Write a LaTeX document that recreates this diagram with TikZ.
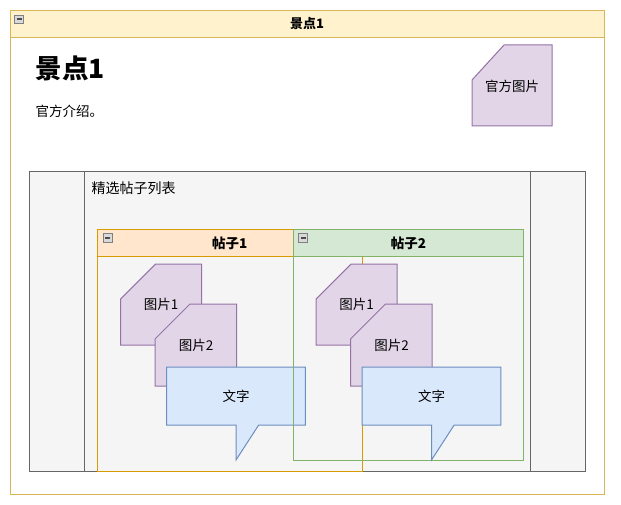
\documentclass[tikz,border=0pt]{standalone}
\usepackage{fontspec}
\setmainfont{Noto Sans CJK SC}
\definecolor{headfill}{HTML}{FFF2CC}
\definecolor{headline}{HTML}{D6B656}
\definecolor{picfill}{HTML}{E1D5E7}
\definecolor{picline}{HTML}{9673A6}
\definecolor{txtfill}{HTML}{DAE8FC}
\definecolor{txtline}{HTML}{6C8EBF}
\definecolor{listfill}{HTML}{F5F5F5}
\definecolor{listline}{HTML}{666666}
\definecolor{post1fill}{HTML}{FFE6CC}
\definecolor{post1line}{HTML}{D79B00}
\definecolor{post2fill}{HTML}{D5E8D4}
\definecolor{post2line}{HTML}{82B366}
\begin{document}
\begin{tikzpicture}[x=1pt,y=-1pt,line width=1pt,
    pic/.style={draw=picline,fill=picfill},
    bubble/.style={draw=txtline,fill=txtfill},
    minus/.style={draw=black!50,fill=black!15,line width=0.8pt},
    label/.style={font=\fontsize{13.5}{15}\selectfont,inner sep=0pt}]
    \useasboundingbox (0,0) rectangle (621,505);
    \draw[draw=headline, fill=white] (10,11) rectangle (604,494);
    \draw[draw=headline, fill=headfill] (10,11) rectangle (604,38);
    \draw[minus] (14.5,15) rectangle (23.5,23.5);
    \draw[black!70, line width=1.5pt] (16.5,19.2) -- (21.5,19.2);
    \node[label, font=\bfseries\fontsize{13}{15}\selectfont] (spottitle) at (307,24) {景点1};
    \node[label, anchor=west, font=\bfseries\fontsize{26.5}{30}\selectfont] (spotname) at (35,68) {景点1};
    \node[label, anchor=west] (spotintro) at (35,111) {官方介绍。};
    \draw[pic] (472,80) -- (504,45) -- (552,45) -- (552,126) -- (472,126) -- cycle;
    \node[label] (officialpic) at (512,86) {官方图片};
    \draw[draw=listline, fill=listfill] (29,172) rectangle (585,471);
    \draw[listline] (84,172) -- (84,471);
    \draw[listline] (530,172) -- (530,471);
    \node[label, anchor=west, font=\fontsize{14}{16}\selectfont] (postlist) at (91,188) {精选帖子列表};
    \foreach \n/\dx/\xr/\yb in {1/0/362/471, 2/195.5/523.7/460} {
        \draw[draw=post\n line] (97.7+\dx,256) rectangle (\xr,\yb);
        \draw[draw=post\n line, fill=post\n fill] (97.7+\dx,230) rectangle (\xr,256);
        \draw[minus] (103+\dx,233.5) rectangle (112+\dx,242);
        \draw[black!70, line width=1.5pt] (105+\dx,237.8) -- (110+\dx,237.8);
        \node[label, font=\bfseries\fontsize{13.5}{15}\selectfont] (post\n) at ({(97.7+\dx+\xr)/2},243) {帖子\n};
        \draw[pic] (120.7+\dx,299) -- (155.7+\dx,264) -- (201.7+\dx,264) -- (201.7+\dx,345) -- (120.7+\dx,345) -- cycle;
        \node[label] (post\n pic1) at (161.2+\dx,304.5) {图片1};
        \draw[pic] (155+\dx,339) -- (190+\dx,304) -- (236.5+\dx,304) -- (236.5+\dx,386) -- (155+\dx,386) -- cycle;
        \node[label] (post\n pic2) at (196+\dx,345) {图片2};
        \draw[bubble] (166.7+\dx,367) -- (305.3+\dx,367) -- (305.3+\dx,425) -- (258.7+\dx,425)
            -- (236+\dx,460) -- (236+\dx,425) -- (166.7+\dx,425) -- cycle;
        \node[label] (post\n text) at (236+\dx,396) {文字};
    }
\end{tikzpicture}
\end{document}
